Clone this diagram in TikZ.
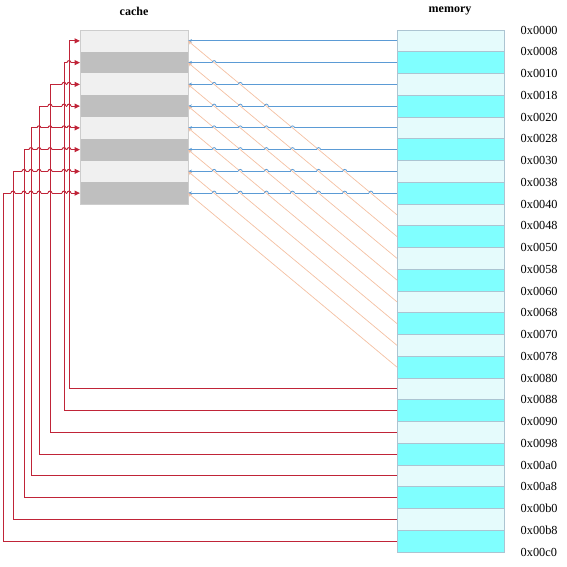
\documentclass[tikz,border=0pt]{standalone}
\usepackage{fontspec}
\setmainfont{Liberation Serif}
\usepackage{tikz}
\usetikzlibrary{arrows.meta}

\definecolor{cachelight}{RGB}{240,240,240}
\definecolor{cachedark}{RGB}{191,191,191}
\definecolor{cacheline}{RGB}{205,205,205}
\definecolor{memlight}{RGB}{229,251,252}
\definecolor{memdark}{RGB}{128,255,255}
\definecolor{memline}{RGB}{172,196,210}
\definecolor{lineblue}{RGB}{91,155,213}
\definecolor{lineorange}{RGB}{244,192,162}
\definecolor{linered}{RGB}{192,36,56}

\begin{document}
\begin{tikzpicture}[
  x=1pt, y=-1pt, >=Stealth,
  cell/.style={minimum width=108pt, minimum height=21.75pt, inner sep=0pt, outer sep=0pt},
  memcell/.style={draw=memline, line width=0.6pt, minimum width=107pt,
                  minimum height=21.75pt, inner sep=0pt, outer sep=0pt},
  addr/.style={anchor=west, inner sep=0pt, font=\fontsize{12.3}{14}\selectfont},
  title/.style={font=\fontsize{12}{14}\selectfont\bfseries},
  toblue/.style={-{Stealth[length=4pt,width=3.5pt]}, line width=0.8pt, color=lineblue},
  toorange/.style={-{Stealth[length=4pt,width=3.5pt]}, line width=0.7pt, color=lineorange},
  tored/.style={-{Triangle[length=5.5pt,width=5pt]}, line width=1pt, color=linered},
]
\useasboundingbox (0,0) rectangle (567,567);

\node[title] (cachetitle) at (134,11) {cache};
\node[title] (memtitle)   at (450,11) {memory};

% cache lines
\foreach \i in {0,...,7} {
  \ifodd\i \def\cf{cachedark}\else\def\cf{cachelight}\fi
  \node[cell, fill=\cf] (c\i) at (134,{30+(\i+0.5)*21.75}) {};
}
\draw[cacheline, line width=0.6pt] (c0.north west) rectangle (c7.south east);

% memory blocks
\foreach \j in {0,...,23} {
  \ifodd\j \def\mf{memdark}\else\def\mf{memlight}\fi
  \node[memcell, fill=\mf] (m\j) at (450.5,{30+(\j+0.5)*21.75}) {};
}

% addresses
\foreach \a [count=\k from 0] in {0000,0008,0010,0018,0020,0028,0030,0038,0040,
    0048,0050,0058,0060,0068,0070,0078,0080,0088,0090,0098,00a0,00a8,00b0,00b8,00c0}
  \node[addr] (a\k) at (520.5,{30+\k*21.75}) {0x\a};

% blocks 0-7
\foreach \i in {0,...,7}
  \draw[toblue] (m\i.west) -- (c\i.east);

% line jumps on the blue lines
\foreach \j in {1,...,7} {
  \foreach \d in {1,...,\j}
    \fill[white] ({188+\d*26.125-2},{30+(\j+0.5)*21.75-0.7}) rectangle ++(4,1.4);
}

% blocks 8-15
\foreach \i in {0,...,7} {
  \pgfmathtruncatemacro\j{\i+8}
  \draw[toorange] (m\j.west) -- (c\i.east);
}

\foreach \j in {1,...,7} {
  \foreach \d in {1,...,\j}
    \draw[lineblue, line width=0.8pt] ({188+\d*26.125-2},{30+(\j+0.5)*21.75}) arc (180:360:2);
}

% blocks 16-23
\def\redx{{69,64,50,39,31,24,13,3}}
\foreach \i/\xv in {0/69,1/64,2/50,3/39,4/31,5/24,6/13,7/3} {
  \pgfmathtruncatemacro\j{\i+16}
  \draw[tored] (m\j.west) -| (\xv,0 |- c\i.west) -- (c\i.west);
}

% line jumps on the red lines
\foreach \j in {1,...,7} {
  \pgfmathtruncatemacro\kmax{\j-1}
  \foreach \k in {0,...,\kmax} {
    \pgfmathsetmacro\xk{\redx[\k]}
    \pgfmathsetmacro\yj{30+(\j+0.5)*21.75}
    \fill[white] ({\xk-2},{\yj-0.9}) rectangle ++(4,1.8);
    \draw[linered, line width=1pt] (\xk,{\yj-3}) -- (\xk,{\yj+3});
    \draw[linered, line width=1pt] ({\xk-2},\yj) arc (180:360:2);
  }
}
\end{tikzpicture}
\end{document}
